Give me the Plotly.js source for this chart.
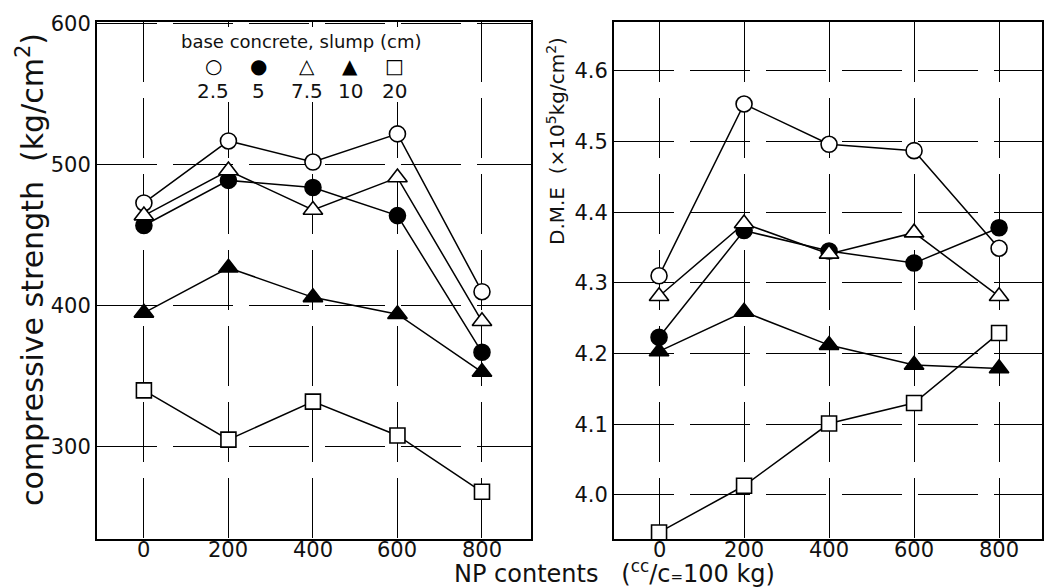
<!DOCTYPE html>
<html>
<head>
<meta charset="utf-8">
<script src="https://cdn.plot.ly/plotly-3.0.1.min.js"></script>
<style>html,body{margin:0;padding:0;background:#fff;}#chart{width:1044px;height:588px;}</style>
</head>
<body>
<div id="chart"></div>
<script>
// NP contents (cc/c=100kg)
const npContents = [0, 200, 400, 600, 800];
const tickLabels = ['0', '200', '400', '600', '800'];

// Compressive strength (kg/cm2) by base-concrete slump (cm)
const csSlump25 = [473, 517, 502, 522, 410];
const csSlump5  = [457, 489, 484, 464, 367];
const csSlump75 = [464, 496, 468, 491, 389];
const csSlump10 = [395, 427, 406, 394, 353];
const csSlump20 = [340, 305, 332, 308, 268];

// D.M.E (x10^5 kg/cm2) by base-concrete slump (cm)
const dmeSlump25 = [4.310, 4.553, 4.496, 4.487, 4.349];
const dmeSlump5  = [4.223, 4.374, 4.345, 4.328, 4.378];
const dmeSlump75 = [4.281, 4.384, 4.341, 4.371, 4.281];
const dmeSlump10 = [4.203, 4.259, 4.212, 4.184, 4.179];
const dmeSlump20 = [3.947, 4.013, 4.101, 4.130, 4.229];

const slumpLabels = ['2.5', '5', '7.5', '10', '20'];
const slumpGlyphs = ['\u25CB', '\u25CF', '\u25B3', '\u25B2', '\u25A1'];

const FONT = 'DejaVu Sans';
const styles = [
  {symbol: 'circle', color: '#fff', size: 16},
  {symbol: 'circle', color: '#000', size: 16},
  {symbol: 'triangle-up', color: '#fff', size: 17},
  {symbol: 'triangle-up', color: '#000', size: 17},
  {symbol: 'square', color: '#fff', size: 15}
];

function mk(y, i, xa, ya) {
  const s = styles[i];
  return {
    x: npContents, y: y, xaxis: xa, yaxis: ya, type: 'scatter', mode: 'lines+markers',
    name: slumpLabels[i], showlegend: false, cliponaxis: false,
    line: {color: '#000', width: 1.5},
    marker: {symbol: s.symbol, size: s.size, color: s.color, line: {color: '#000', width: 1.6}}
  };
}

const csSeries = [csSlump25, csSlump5, csSlump75, csSlump10, csSlump20];
const dmeSeries = [dmeSlump25, dmeSlump5, dmeSlump75, dmeSlump10, dmeSlump20];
const traces = [];
csSeries.forEach((s, i) => traces.push(mk(s, i, 'x', 'y')));
dmeSeries.forEach((s, i) => traces.push(mk(s, i, 'x2', 'y2')));

const W = 1044, H = 588;
const px = v => v / W, py = v => 1 - v / H;

const axisBase = {
  showline: true, mirror: true, linecolor: '#000', linewidth: 2,
  showgrid: true, gridcolor: '#000', gridwidth: 1, griddash: '60px,16px',
  zeroline: false, ticks: '', tickfont: {family: FONT, size: 21, color: '#111'}
};

function ann(x, y, text, size, extra) {
  return Object.assign({xref: 'paper', yref: 'paper', x: px(x), y: py(y), text: text,
    xanchor: 'center', yanchor: 'middle', showarrow: false,
    font: {family: FONT, size: size, color: '#111'}}, extra || {});
}

const annotations = [
  ann(30, 270, 'compressive strength  (kg/cm<sup>2</sup>)', 30, {textangle: -90}),
  ann(556, 141, 'D.M.E  (\u00D710<sup>5</sup>kg/cm<sup>2</sup>)', 20, {textangle: -90}),
  ann(614, 572, 'NP contents   (<sup>cc</sup>/c<span style="font-size:15px">=</span>100 kg)', 24),
  ann(301, 41, 'base concrete, slump (cm)', 18)
];
const legendX = [213, 258, 307, 350, 394];
slumpGlyphs.forEach((g, i) => {
  annotations.push(ann(legendX[i], 66, g, 20, {font: {family: FONT, size: 20, color: '#000'}}));
  annotations.push(ann(legendX[i], 91, slumpLabels[i], 20));
});
// x tick labels, placed through the x axes' own scales
['x', 'x2'].forEach(xr => {
  npContents.forEach((v, i) => {
    annotations.push({xref: xr, yref: 'paper', x: v, y: py(550), text: tickLabels[i],
      xanchor: 'center', yanchor: 'middle', showarrow: false,
      font: {family: FONT, size: 21, color: '#111'}});
  });
});

const layout = {
  width: W, height: H, margin: {l: 0, r: 0, t: 0, b: 0},
  paper_bgcolor: '#fff', plot_bgcolor: '#fff', showlegend: false,
  xaxis: Object.assign({}, axisBase, {domain: [px(97), px(531)], range: [-111, 916],
    tickvals: npContents, showticklabels: false, anchor: 'y'}),
  yaxis: Object.assign({}, axisBase, {domain: [py(539), py(22)], range: [234.5, 601.4],
    tickvals: [300, 400, 500, 600], anchor: 'x'}),
  xaxis2: Object.assign({}, axisBase, {domain: [px(614), px(1042)], range: [-106, 901],
    tickvals: npContents, showticklabels: false, anchor: 'y2'}),
  yaxis2: Object.assign({}, axisBase, {domain: [py(539), py(22)], range: [3.9377, 4.669],
    tickvals: [4.0, 4.1, 4.2, 4.3, 4.4, 4.5, 4.6], tickformat: '.1f', anchor: 'x2'}),
  shapes: [
    {type: 'rect', xref: 'paper', yref: 'paper', x0: px(172), x1: px(428), y0: py(102), y1: py(27),
     fillcolor: '#fff', line: {width: 0}, layer: 'above'}
  ],
  annotations: annotations
};

Plotly.newPlot('chart', traces, layout, {staticPlot: true, displayModeBar: false});
</script>
</body>
</html>
